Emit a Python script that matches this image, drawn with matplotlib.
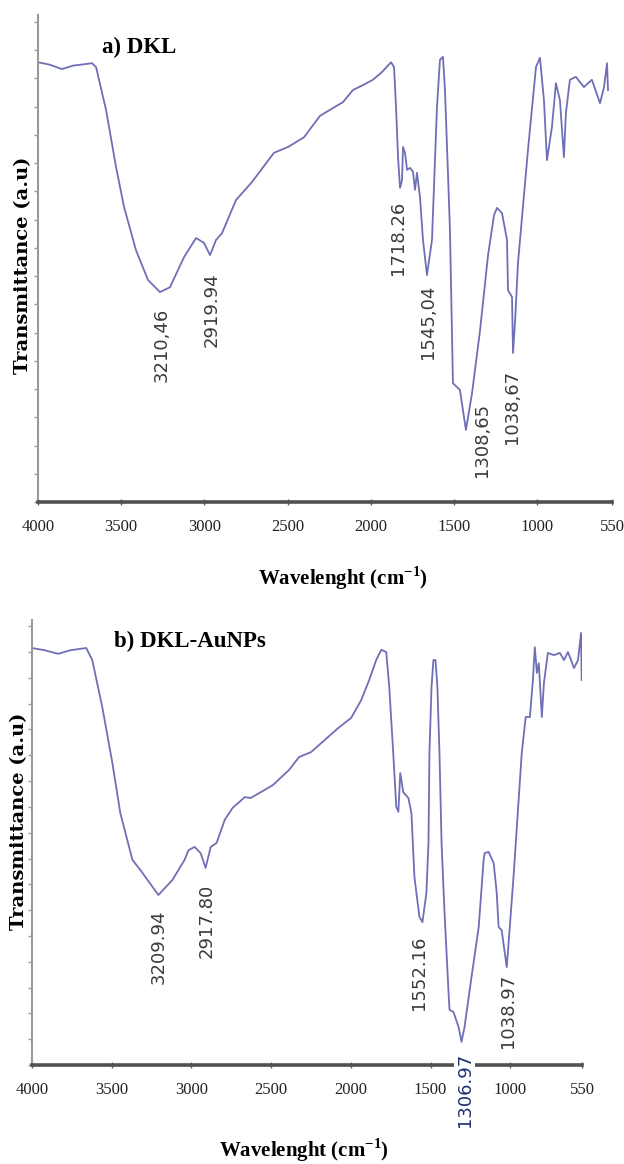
import numpy as np
import matplotlib.pyplot as plt

# FTIR spectra (x in axis units, y in arbitrary %T)
wn_a = [4000, 3930, 3856, 3790, 3720, 3675, 3651, 3591, 3531, 3483, 3411, 3339, 3267, 3207,
        3122, 3050, 3002, 2966, 2930, 2894, 2810, 2714, 2582, 2497, 2401, 2305, 2227, 2167,
        2107, 2047, 1987, 1932, 1878, 1860, 1848, 1836, 1824, 1812, 1806, 1794, 1782, 1764,
        1746, 1734, 1722, 1704, 1686, 1662, 1632, 1602, 1584, 1566, 1554, 1536, 1524, 1506,
        1482, 1464, 1446, 1428, 1391, 1343, 1295, 1259, 1241, 1211, 1181, 1175, 1151, 1145,
        1133, 1115, 1055, 1007, 983, 959, 941, 911, 887, 863, 839, 827, 803, 767, 719, 671,
        622, 598, 580, 574]
t_a = [90.3, 89.8, 88.9, 89.6, 89.9, 90.1, 89.3, 80.5, 68.8, 60.6, 51.7, 45.6, 43.1, 44.1,
       50.3, 54.2, 53.2, 50.7, 53.8, 55.2, 62.0, 65.7, 71.7, 72.9, 74.9, 79.3, 80.9, 82.1,
       84.6, 85.6, 86.7, 88.3, 90.3, 89.3, 81.1, 70.8, 64.5, 66.1, 72.9, 71.7, 68.2, 68.6,
       67.8, 64.1, 67.6, 62.6, 53.8, 46.6, 53.8, 81.1, 90.8, 91.4, 84.6, 67.6, 55.9, 24.4,
       23.6, 23.0, 18.9, 14.8, 22.4, 35.3, 50.7, 58.9, 60.4, 59.3, 53.8, 43.5, 42.1, 30.6,
       36.8, 49.1, 72.3, 89.3, 91.2, 82.5, 70.2, 77.0, 86.0, 82.5, 70.8, 79.9, 86.7, 87.3,
       85.2, 86.7, 81.9, 85.2, 90.1, 84.6]

wn_b = [4000, 3920, 3836, 3760, 3660, 3622, 3559, 3496, 3446, 3370, 3320, 3207, 3119, 3043,
        3018, 2980, 2942, 2911, 2879, 2842, 2791, 2741, 2665, 2628, 2489, 2388, 2325, 2250,
        2143, 2080, 1998, 1935, 1885, 1841, 1809, 1778, 1759, 1734, 1715, 1702, 1696, 1690,
        1671, 1639, 1620, 1601, 1570, 1551, 1526, 1513, 1507, 1494, 1482, 1469, 1457, 1444,
        1431, 1413, 1387, 1381, 1356, 1324, 1306, 1287, 1243, 1198, 1167, 1161, 1136, 1104,
        1085, 1073, 1054, 1022, 1003, 978, 953, 928, 903, 877, 858, 846, 833, 821, 802, 789,
        764, 726, 689, 663, 638, 600, 575, 556, 552]
t_b = [93.7, 93.2, 92.4, 93.2, 93.7, 91.0, 80.4, 67.9, 56.6, 46.1, 43.8, 38.2, 41.6, 46.1,
       48.3, 49.0, 47.6, 44.3, 49.0, 49.9, 55.1, 57.8, 60.2, 60.0, 62.9, 66.3, 69.2, 70.3,
       73.7, 75.7, 78.0, 82.0, 86.5, 91.0, 93.3, 92.8, 84.9, 70.1, 58.0, 56.9, 61.1, 65.6,
       61.3, 60.0, 56.6, 42.2, 33.3, 32.1, 38.7, 49.9, 70.1, 84.9, 91.0, 91.0, 84.9, 70.1,
       49.9, 34.8, 16.2, 12.4, 11.9, 8.5, 5.2, 8.5, 19.8, 31.0, 46.1, 47.6, 47.9, 45.4,
       38.7, 31.0, 30.3, 22.0, 31.0, 43.1, 56.6, 70.1, 78.2, 78.2, 86.5, 93.9, 88.1, 90.3,
       78.2, 85.8, 92.6, 92.1, 92.6, 91.0, 92.8, 89.2, 91.0, 97.1, 86.5]

# peak annotations
peaks_a = ['3210,46', '2919.94', '1718.26', '1545,04', '1308,65', '1038,67']
lab_x_a = [3255, 2954, 1836, 1656, 1331, 1151]
lab_y_a = [32.2, 39.4, 54.2, 37.0, 12.7, 19.5]
peaks_b = ['3209.94', '2917.80', '1552.16', '1306.97', '1038.97']
lab_x_b = [3207, 2905, 1570, 1287, 1016]
lab_y_b = [26.5, 32.4, 20.7, -5.6, 12.1]

xticks = [4000, 3500, 3000, 2500, 2000, 1500, 1000, 550]

LINE = '#6f6fb5'
SERIF = ['Liberation Serif', 'DejaVu Serif']
XLAB = r'Wavelenght (cm$^{\mathregular{-1}}$)'

plt.rcParams['mathtext.fontset'] = 'custom'
plt.rcParams['mathtext.rm'] = 'Liberation Serif:bold'

fig = plt.figure(figsize=(6.24, 11.64), dpi=100)


def setup(ax):
    ax.set_xlim(4000, 550)
    ax.set_ylim(0, 100)
    ax.set_xticks(xticks)
    ax.set_xticklabels([str(v) for v in xticks], family=SERIF, fontsize=12)
    ax.set_yticks(np.arange(0, 101, 5.8))
    ax.set_yticklabels([])
    for s in ['top', 'right']:
        ax.spines[s].set_visible(False)
    ax.spines['bottom'].set_linewidth(2.6)
    ax.spines['bottom'].set_color('#505050')
    ax.spines['left'].set_linewidth(1.5)
    ax.spines['left'].set_color('#9a9a9a')
    ax.tick_params(axis='x', direction='inout', length=5, width=1, colors='#606060',
                   labelcolor='#222222', pad=10)
    ax.tick_params(axis='y', direction='out', length=3, width=1, colors='#9a9a9a')


# panel a
ax1 = fig.add_axes([38 / 624, 1 - 502 / 1164, 574 / 624, 487 / 1164])
setup(ax1)
ax1.plot(wn_a, t_a, color=LINE, lw=1.3)
for s, x, y in zip(peaks_a, lab_x_a, lab_y_a):
    ax1.text(x, y, s, rotation=90, ha='center', va='center', fontsize=13, color='#3a3a3a')
ax1.text(3615, 93.3, 'a) DKL', family=SERIF, fontsize=16.5, fontweight='bold', va='center')

# panel b
ax2 = fig.add_axes([32 / 624, 1 - 1065 / 1164, 550 / 624, 445 / 1164])
setup(ax2)
ax2.plot(wn_b, t_b, color=LINE, lw=1.3)
for s, x, y in zip(peaks_b, lab_x_b, lab_y_b):
    if y < 0:
        ax2.text(x, y, s, rotation=90, ha='center', va='center', fontsize=13, color='#1f2f6e',
                 clip_on=False, zorder=5,
                 bbox=dict(facecolor='white', edgecolor='none', pad=1))
    else:
        ax2.text(x, y, s, rotation=90, ha='center', va='center', fontsize=13, color='#3a3a3a')
ax2.text(3484, 95.1, 'b) DKL-AuNPs', family=SERIF, fontsize=16.5, fontweight='bold', va='center')

# axis titles
fig.text(343 / 624, 1 - 578 / 1164, XLAB, family=SERIF, fontsize=15,
         fontweight='bold', ha='center', va='center')
fig.text(304 / 624, 1 - 1150 / 1164, XLAB, family=SERIF, fontsize=15,
         fontweight='bold', ha='center', va='center')
fig.text(23 / 624, 1 - 265 / 1164, 'Transmittance (a.u)', family='DejaVu Serif', fontsize=14,
         fontweight='bold', rotation=90, ha='center', va='center')
fig.text(19 / 624, 1 - 821 / 1164, 'Transmittance (a.u)', family='DejaVu Serif', fontsize=14,
         fontweight='bold', rotation=90, ha='center', va='center')

fig.savefig('out.png', dpi=100)
